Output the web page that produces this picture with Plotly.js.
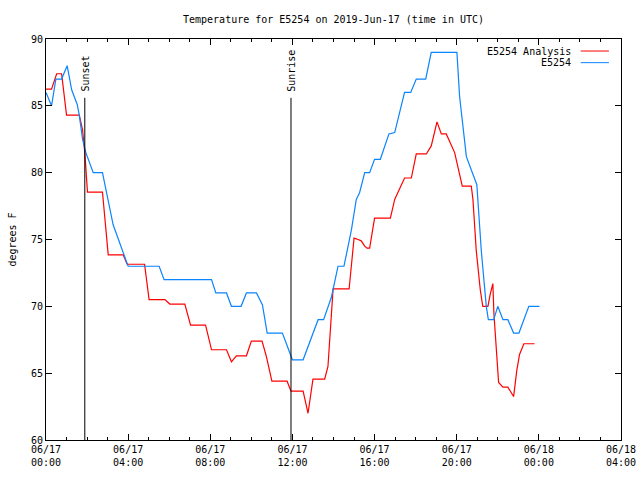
<!DOCTYPE html>
<html>
<head>
<meta charset="utf-8">
<script src="https://cdn.plot.ly/plotly-3.0.1.min.js"></script>
<style>html,body{margin:0;padding:0;background:#fff;}#chart{width:640px;height:480px;}</style>
</head>
<body>
<div id="chart"></div>
<script>
// Hours since 2019-06-17 00:00 UTC
const obsHours = [0.0,0.27,0.48,0.76,1.03,1.25,1.52,1.62,1.78,1.94,2.3,2.75,3.27,3.6,4.0,5.51,5.75,8.06,8.27,8.79,9.03,9.5,9.76,10.25,10.54,10.77,11.51,12.0,12.52,13.25,13.52,13.9,14.22,14.51,14.87,15.11,15.27,15.52,15.76,16.0,16.28,16.7,16.98,17.46,17.76,18.03,18.49,18.76,20.01,20.14,20.47,20.98,21.2,21.44,21.54,21.8,22.0,22.25,22.49,22.77,23.03,23.51,24.03];
const obsTemps = [86.0,85.0,87.0,87.0,88.0,86.2,85.1,84.3,82.5,81.5,80.0,80.0,76.1,74.7,73.0,73.0,72.0,72.0,71.0,71.0,70.0,70.0,71.0,71.0,70.1,68.0,68.0,66.0,66.0,69.0,69.0,70.7,73.0,73.0,75.7,78.0,78.5,80.0,80.0,81.0,81.0,82.9,83.0,86.0,86.0,87.0,87.0,89.0,89.0,85.7,81.2,79.1,74.1,70.0,69.0,69.0,70.0,69.0,69.0,68.0,68.0,70.0,70.0];

const anaHours = [0.0,0.27,0.52,0.76,1.0,1.62,1.78,1.89,2.02,2.75,3.03,3.76,3.95,4.8,5.02,5.79,6.03,6.76,7.04,7.77,8.06,8.79,9.03,9.27,9.76,10.0,10.52,10.73,11.0,11.74,11.93,12.52,12.76,13.0,13.57,13.73,13.98,14.76,14.9,15.0,15.2,15.35,15.52,15.63,15.76,15.89,16.0,16.77,16.98,17.46,17.79,18.03,18.52,18.76,19.04,19.25,19.49,19.9,20.14,20.27,20.71,20.79,20.95,21.15,21.27,21.52,21.63,21.76,21.81,21.93,22.04,22.25,22.49,22.77,22.93,23.06,23.27,23.79];
const anaTemps = [86.25,86.25,87.4,87.4,84.3,84.3,83.2,81.5,78.55,78.55,73.85,73.85,73.15,73.15,70.5,70.5,70.17,70.17,68.6,68.6,66.75,66.75,65.85,66.3,66.3,67.4,67.4,66.25,64.4,64.4,63.65,63.65,62.0,64.55,64.55,65.5,71.3,71.3,73.5,75.1,75.0,74.9,74.5,74.35,74.35,75.5,76.6,76.6,78.0,79.6,79.6,81.4,81.4,82.0,83.8,82.9,82.9,81.5,79.7,79.0,79.0,78.0,74.2,71.2,70.0,70.0,70.9,71.7,69.5,66.5,64.3,63.95,63.95,63.25,65.25,66.4,67.2,67.2];

const tickHours = [0,4,8,12,16,20,24,28];
const tickLabels = ["06/17<br>00:00","06/17<br>04:00","06/17<br>08:00","06/17<br>12:00","06/17<br>16:00","06/17<br>20:00","06/18<br>00:00","06/18<br>04:00"];

const sunsetHour = 1.89;
const sunriseHour = 11.93;
const eventTop = 85.6;

const seriesNames = ["E5254 Analysis", "E5254"];
const seriesColors = ["#ff0000", "#0a84ff"];

const FONT = "DejaVu Sans Mono";

const traces = [
  {x: anaHours, y: anaTemps, mode: 'lines', name: seriesNames[0], line: {color: seriesColors[0], width: 1.2}, showlegend: false},
  {x: obsHours, y: obsTemps, mode: 'lines', name: seriesNames[1], line: {color: seriesColors[1], width: 1.2}, showlegend: false}
];

const shapes = [
  {type: 'line', xref: 'x', yref: 'y', x0: sunsetHour, x1: sunsetHour, y0: 60, y1: eventTop, line: {color: 'black', width: 1}},
  {type: 'line', xref: 'x', yref: 'y', x0: sunriseHour, x1: sunriseHour, y0: 60, y1: eventTop, line: {color: 'black', width: 1}},
  {type: 'line', xref: 'paper', yref: 'paper', x0: 0.930, x1: 0.979, y0: 0.970, y1: 0.970, line: {color: seriesColors[0], width: 1}},
  {type: 'line', xref: 'paper', yref: 'paper', x0: 0.930, x1: 0.979, y0: 0.941, y1: 0.941, line: {color: seriesColors[1], width: 1}}
];

const annotations = [
  {xref: 'x', yref: 'y', x: sunsetHour, y: eventTop, text: 'Sunset', textangle: -90, showarrow: false, xanchor: 'center', yanchor: 'bottom', yshift: 4, xshift: 1, font: {family: FONT, size: 10, color: 'black'}},
  {xref: 'x', yref: 'y', x: sunriseHour, y: eventTop, text: 'Sunrise', textangle: -90, showarrow: false, xanchor: 'center', yanchor: 'bottom', yshift: 4, xshift: 1, font: {family: FONT, size: 10, color: 'black'}},
  {xref: 'paper', yref: 'paper', x: 0.9165, y: 0.970, text: seriesNames[0], showarrow: false, xanchor: 'right', yanchor: 'middle', font: {family: FONT, size: 10, color: 'black'}},
  {xref: 'paper', yref: 'paper', x: 0.9165, y: 0.941, text: seriesNames[1], showarrow: false, xanchor: 'right', yanchor: 'middle', font: {family: FONT, size: 10, color: 'black'}}
];

const layout = {
  width: 640, height: 480,
  margin: {l: 46, r: 19, t: 39, b: 40, pad: 0},
  paper_bgcolor: 'white', plot_bgcolor: 'white',
  font: {family: FONT, size: 10, color: 'black'},
  title: {text: 'Temperature for E5254 on 2019-Jun-17 (time in UTC)', x: 0.5, xref: 'paper', y: 1 - 19/480, yanchor: 'middle', font: {family: FONT, size: 10, color: 'black'}},
  showlegend: false,
  xaxis: {
    range: [0, 28], tickmode: 'array', tickvals: tickHours, ticktext: tickLabels,
    ticks: 'inside', ticklen: 6, tickcolor: 'black', tickwidth: 1,
    minor: {tickmode: 'linear', tick0: 0, dtick: 1, ticks: 'inside', ticklen: 3, tickcolor: 'black', showgrid: false},
    showline: true, linecolor: 'black', linewidth: 1, mirror: 'ticks',
    showgrid: false, zeroline: false, fixedrange: true,
    tickfont: {family: FONT, size: 10, color: 'black'}
  },
  yaxis: {
    range: [60, 90], tickmode: 'linear', tick0: 60, dtick: 5,
    ticks: 'inside', ticklen: 6, tickcolor: 'black', tickwidth: 1,
    showline: true, linecolor: 'black', linewidth: 1, mirror: 'ticks',
    showgrid: false, zeroline: false, fixedrange: true,
    tickfont: {family: FONT, size: 10, color: 'black'},
    title: {text: 'degrees F', standoff: 12, font: {family: FONT, size: 10, color: 'black'}}
  },
  shapes: shapes,
  annotations: annotations
};

Plotly.newPlot('chart', traces, layout, {displayModeBar: false, staticPlot: true});
</script>
</body>
</html>
